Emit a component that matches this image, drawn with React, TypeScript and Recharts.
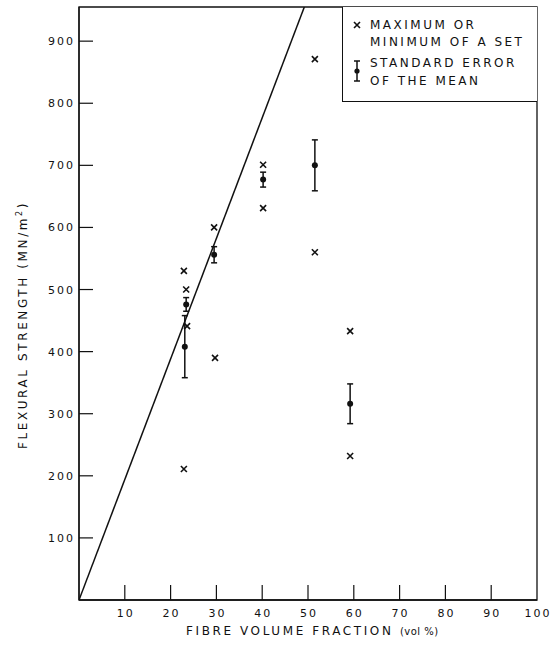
import { ComposedChart, Scatter, Line, XAxis, YAxis, ErrorBar, ReferenceArea } from "recharts";

// fibre volume fraction (vol %) vs flexural strength (MN/m2)
const X_TICKS = [10, 20, 30, 40, 50, 60, 70, 80, 90, 100];
const Y_TICKS = [100, 200, 300, 400, 500, 600, 700, 800, 900];

// maximum / minimum of each set
const EXT_X = [22.9, 23.4, 23.6, 22.9, 29.5, 29.7, 40.2, 40.2, 51.5, 51.5, 59.2, 59.2];
const EXT_Y = [530, 500, 441, 211, 600, 390, 701, 631, 871, 560, 433, 232];

// mean with standard error
const MEAN_X = [23.1, 23.4, 29.5, 40.2, 51.5, 59.2];
const MEAN_Y = [408, 476, 556, 677, 700, 316];
const MEAN_ERR = [50, 11, 13, 12, 41, 32];

// theoretical line
const LINE_X = [0, 49.2];
const LINE_Y = [0, 955];

const extremes = EXT_X.map((x, i) => ({ x, y: EXT_Y[i] }));
const means = MEAN_X.map((x, i) => ({ x, y: MEAN_Y[i], err: MEAN_ERR[i] }));
const theory = LINE_X.map((x, i) => ({ x, y: LINE_Y[i] }));

const INK = "#111";
const FONT = "'DejaVu Sans', sans-serif";

function Cross(props: any) {
  const { cx, cy } = props;
  const s = 3;
  return (
    <path
      d={`M${cx - s},${cy - s}L${cx + s},${cy + s}M${cx + s},${cy - s}L${cx - s},${cy + s}`}
      stroke={INK}
      strokeWidth={1.6}
    />
  );
}

function MeanDot(props: any) {
  return <circle cx={props.cx} cy={props.cy} r={3} fill={INK} />;
}

function XTick({ x, y, payload }: any) {
  return (
    <g>
      {payload.value !== 100 && <line x1={x} y1={y} x2={x} y2={y - 15} stroke={INK} strokeWidth={1.2} />}
      <text x={x + 1} y={y + 17} textAnchor="middle" fontFamily={FONT} fontSize={11} letterSpacing={2} fill={INK}>
        {payload.value}
      </text>
    </g>
  );
}

function YTick({ x, y, payload }: any) {
  return (
    <g>
      <line x1={x} y1={y} x2={x + 14} y2={y} stroke={INK} strokeWidth={1.2} />
      <text x={x - 4} y={y + 4} textAnchor="end" fontFamily={FONT} fontSize={11} letterSpacing={2} fill={INK}>
        {payload.value}
      </text>
    </g>
  );
}

const legendText: React.CSSProperties = {
  position: "absolute",
  left: 27,
  fontFamily: FONT,
  fontSize: 12,
  letterSpacing: 2.5,
  lineHeight: "14px",
  whiteSpace: "nowrap",
  color: INK,
};

export default function App() {
  return (
    <div style={{ position: "absolute", left: 0, top: 0, width: 557, height: 646, background: "#fff" }}>
      <ComposedChart width={557} height={646} margin={{ top: 7, right: 20, bottom: 0, left: 0 }}>
        <XAxis
          dataKey="x"
          type="number"
          domain={[0, 100]}
          ticks={X_TICKS}
          allowDataOverflow
          height={46}
          tickSize={0}
          tickMargin={0}
          tick={<XTick />}
          axisLine={{ stroke: INK, strokeWidth: 1.3 }}
        />
        <YAxis
          dataKey="y"
          type="number"
          domain={[0, 955]}
          ticks={Y_TICKS}
          allowDataOverflow
          width={79}
          tickSize={0}
          tickMargin={0}
          tick={<YTick />}
          axisLine={{ stroke: INK, strokeWidth: 1.3 }}
        />
        <ReferenceArea x1={0} x2={100} y1={0} y2={955} fill="none" stroke={INK} strokeWidth={1.3} />
        <Line data={theory} dataKey="y" dot={false} stroke={INK} strokeWidth={1.5} isAnimationActive={false} />
        <Scatter data={extremes} dataKey="y" shape={<Cross />} isAnimationActive={false} />
        <Scatter data={means} dataKey="y" shape={<MeanDot />} isAnimationActive={false}>
          <ErrorBar dataKey="err" direction="y" width={3} stroke={INK} strokeWidth={1.5} />
        </Scatter>
      </ComposedChart>

      {/* legend box */}
      <div
        style={{
          position: "absolute",
          left: 342,
          top: 7,
          width: 195,
          height: 95,
          borderLeft: `1.3px solid ${INK}`,
          borderBottom: `1.3px solid ${INK}`,
          boxSizing: "border-box",
          background: "#fff",
        }}
      >
        <svg width={20} height={80} style={{ position: "absolute", left: 6, top: 8 }}>
          <path d="M5,7L11,13M11,7L5,13" stroke={INK} strokeWidth={1.6} />
          <line x1={8} y1={46} x2={8} y2={66} stroke={INK} strokeWidth={1.5} />
          <line x1={5} y1={46} x2={11} y2={46} stroke={INK} strokeWidth={1.5} />
          <line x1={5} y1={66} x2={11} y2={66} stroke={INK} strokeWidth={1.5} />
          <circle cx={8} cy={56} r={2.6} fill={INK} />
        </svg>
        <div style={{ ...legendText, top: 11 }}>MAXIMUM OR</div>
        <div style={{ ...legendText, top: 28 }}>MINIMUM OF A SET</div>
        <div style={{ ...legendText, top: 49 }}>STANDARD ERROR</div>
        <div style={{ ...legendText, top: 67 }}>OF THE MEAN</div>
      </div>

      {/* axis titles */}
      <div
        style={{
          position: "absolute",
          left: 186,
          top: 624,
          fontFamily: FONT,
          fontSize: 12,
          letterSpacing: 2.6,
          whiteSpace: "nowrap",
          color: INK,
        }}
      >
        FIBRE VOLUME FRACTION <span style={{ fontSize: 10, letterSpacing: 0.5 }}>(vol %)</span>
      </div>
      <div
        style={{
          position: "absolute",
          left: 22,
          top: 325,
          transform: "translate(-50%, -50%) rotate(-90deg)",
          fontFamily: FONT,
          fontSize: 12,
          letterSpacing: 2.6,
          whiteSpace: "nowrap",
          color: INK,
        }}
      >
        FLEXURAL STRENGTH (MN/m<sup style={{ fontSize: 8 }}>2</sup>)
      </div>
    </div>
  );
}
